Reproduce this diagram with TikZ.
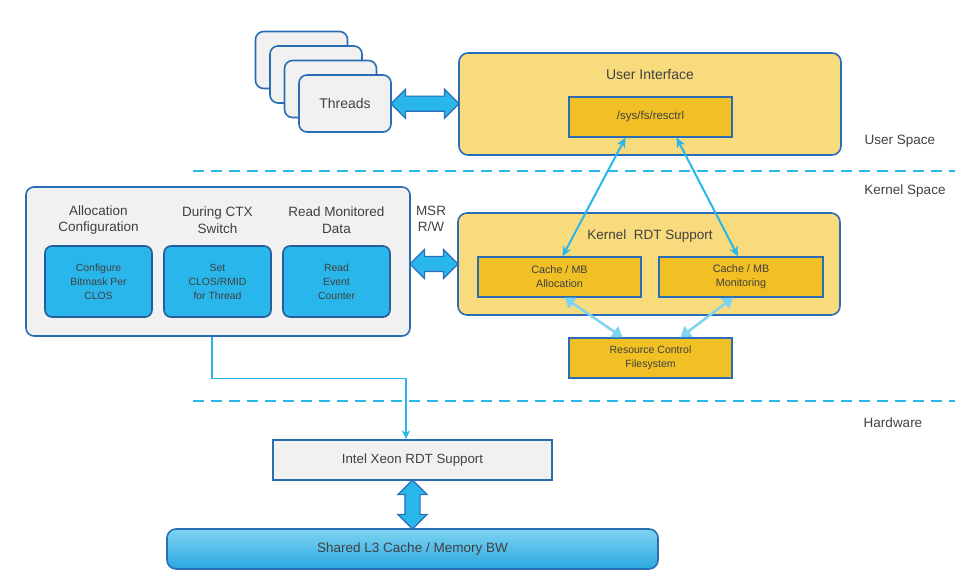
\documentclass[tikz,border=0pt]{standalone}
\usepackage{fontspec}
\setmainfont{Liberation Sans}
\usetikzlibrary{shapes.arrows,arrows.meta,calc}

\definecolor{rdtblue}{HTML}{2A6DB5}
\definecolor{rdtcyan}{HTML}{29B6EA}
\definecolor{rdtpale}{HTML}{F8DB7D}
\definecolor{rdtgold}{HTML}{F0C024}
\definecolor{rdtgrey}{HTML}{F1F1F2}
\definecolor{rdttext}{HTML}{404040}

\tikzset{
  box/.style={draw=rdtblue, line width=1.6pt, rectangle, inner sep=0pt, text=rdttext, align=center},
  greybox/.style={box, fill=rdtgrey, rounded corners=8pt, font=\fontsize{14}{17}\selectfont},
  palebox/.style={box, fill=rdtpale, rounded corners=9pt},
  goldbox/.style={box, fill=rdtgold, line width=1.3pt, font=\fontsize{10.8}{14}\selectfont},
  cyanbox/.style={box, fill=rdtcyan, draw=rdtblue!85!black, rounded corners=7pt, font=\fontsize{10.4}{14}\selectfont},
  fatarrow/.style={double arrow, draw=rdtblue, fill=rdtcyan, line width=1.2pt, inner sep=7pt,
    double arrow head extend=7pt, minimum width=28pt},
  title/.style={text=rdttext, align=center, font=\fontsize{13.5}{16.5}\selectfont},
  layerline/.style={draw=rdtcyan, line width=1.8pt, dash pattern=on 11pt off 7pt},
  link/.style={rdtcyan, line width=2pt, {Stealth[length=10pt,width=9pt]}-{Stealth[length=10pt,width=9pt]}},
  softlink/.style={rdtcyan!60, line width=2.5pt, {Triangle[length=10pt,width=13pt]}-{Triangle[length=10pt,width=13pt]}},
  feed/.style={rdtcyan, line width=1.4pt, -{Stealth[length=9pt,width=8pt]}},
}

\begin{document}
\begin{tikzpicture}[x=1pt, y=-1pt]
        \useasboundingbox (0,0) rectangle (970,585);

        % Layer separators and labels
        \draw [layerline] (193,171) -- (955,171);
        \draw [layerline] (193,401) -- (955,401);
        \node [title] (userspace) at (900,141) {User Space};
        \node [title] (kernelspace) at (905,191) {Kernel Space};
        \node [title] (hardware) at (893,423) {Hardware};

        % Threads stack
        \foreach \i in {3,2,1}
            \node [greybox, minimum width=92pt, minimum height=57pt] (thr\i) at ($(345,103.5)+(-14.5*\i,-14.5*\i)$) {};
        \node [greybox, minimum width=92pt, minimum height=57pt] (thr) at (345,103.5) {Threads};

        % User interface
        \node [palebox, minimum width=382pt, minimum height=102pt] (ui) at (650,104) {};
        \node [title, font=\fontsize{14}{17}\selectfont] (uititle) at (650,75) {User Interface};
        \node [goldbox, font=\fontsize{11.5}{14}\selectfont, minimum width=163pt, minimum height=40pt] (resctrl) at (650.5,117) {/sys/fs/resctrl};
        \node [fatarrow, minimum height=68pt] (thrarrow) at ($(thr.east)!0.5!(ui.west)$) {};

        % Left box with the three steps
        \node [greybox, minimum width=384pt, minimum height=149pt] (lbox) at (218,261.5) {};
        \node [title] (h1) at (98.5,220) {Allocation\\Configuration};
        \node [title] (h2) at (217.5,220) {During CTX\\Switch};
        \node [title] (h3) at (336.5,220) {Read Monitored\\Data};
        \node [cyanbox, minimum width=107pt, minimum height=71pt] (cfg) at (98.5,281.5) {Configure\\Bitmask Per\\CLOS};
        \node [cyanbox, minimum width=107pt, minimum height=71pt] (ctx) at (217.5,281.5) {Set\\CLOS/RMID\\for Thread};
        \node [cyanbox, minimum width=107pt, minimum height=71pt] (evt) at (336.5,281.5) {Read\\Event\\Counter};

        % Kernel RDT support
        \node [palebox, minimum width=382pt, minimum height=102pt] (kbox) at (649,264) {};
        \node [title] (ktitle) at (650,236) {Kernel~~RDT Support};
        \node [goldbox, minimum width=163pt, minimum height=40pt] (alloc) at (559.5,277) {Cache / MB\\Allocation};
        \node [goldbox, minimum width=164pt, minimum height=40pt] (mon) at (741,277) {Cache / MB\\Monitoring};
        \node [goldbox, font=\fontsize{10.5}{14}\selectfont, minimum width=163pt, minimum height=40pt] (rcfs) at (650.5,358) {Resource Control\\Filesystem};
        \node [title] (msr) at (431,219) {MSR\\R/W};
        \node [fatarrow, minimum height=48pt] (msrarrow) at ($(lbox.east |- kbox.west)!0.5!(kbox.west)$) {};

        % Links inside kernel space
        \draw [link] ([xshift=-25pt]resctrl.south) -- ([xshift=3pt]alloc.north);
        \draw [link] ([xshift=26pt]resctrl.south) -- ([xshift=-3pt]mon.north);
        \draw [softlink] ([xshift=5pt]alloc.south) -- ([xshift=-28pt]rcfs.north);
        \draw [softlink] ([xshift=-8pt]mon.south) -- ([xshift=30pt]rcfs.north);

        % Hardware
        \node [box, fill=rdtgrey, font=\fontsize{13.3}{16}\selectfont, minimum width=279pt, minimum height=40pt] (xeon) at (412.5,460) {Intel Xeon RDT Support};
        \node [box, rounded corners=9pt, top color=rdtcyan!60, bottom color=rdtcyan!80!rdtblue, font=\fontsize{13.5}{16}\selectfont, minimum width=491pt, minimum height=40pt] (l3) at (412.5,549) {Shared L3 Cache / Memory BW};
        \node [fatarrow, rotate=90, minimum height=49pt] (hwarrow) at ($(xeon.south)!0.5!(l3.north)$) {};
        \draw [feed] ([xshift=-6pt]lbox.south) -- ++(0,42) -| ([xshift=-6.5pt]xeon.north);
    \end{tikzpicture}
\end{document}
